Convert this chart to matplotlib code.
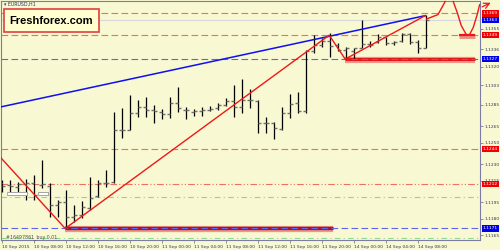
import matplotlib
matplotlib.use("Agg")
import matplotlib.pyplot as plt
from matplotlib.patches import Rectangle
import matplotlib.transforms as mtransforms

# EURUSD H1 bars, 10 Sep 04:00 .. 14 Sep 09:00
opens = [1.1213, 1.1211, 1.1209, 1.1212, 1.1213, 1.1211, 1.1210, 1.1193, 1.1195, 1.1182,
         1.1183, 1.1190, 1.1201, 1.1213, 1.1214, 1.1262, 1.1262, 1.1277, 1.1283, 1.1280,
         1.1278, 1.1276, 1.1287, 1.1280, 1.1278, 1.1279, 1.1280, 1.1282, 1.1285, 1.1288,
         1.1283, 1.1289, 1.1288, 1.1268, 1.1268, 1.1263, 1.1277, 1.1287, 1.1279, 1.1334,
         1.1340, 1.1344, 1.1340, 1.1335, 1.1334, 1.1337, 1.1341, 1.1343, 1.1347, 1.1342,
         1.1344, 1.1350, 1.1343, 1.1337]
highs = [1.1216, 1.1216, 1.1214, 1.1217, 1.1220, 1.1234, 1.1213, 1.1197, 1.1206, 1.1193,
         1.1196, 1.1218, 1.1216, 1.1225, 1.1278, 1.1282, 1.1294, 1.1289, 1.1292, 1.1285,
         1.1281, 1.1292, 1.1301, 1.1283, 1.1281, 1.1283, 1.1284, 1.1287, 1.1291, 1.1303,
         1.1309, 1.1299, 1.1289, 1.1274, 1.1269, 1.1283, 1.1295, 1.1297, 1.1335, 1.1349,
         1.1346, 1.1351, 1.1342, 1.1338, 1.1337, 1.1363, 1.1344, 1.1350, 1.1347, 1.1344,
         1.1351, 1.1351, 1.1345, 1.1368]
lows = [1.1205, 1.1205, 1.1205, 1.1197, 1.1197, 1.1208, 1.1182, 1.1182, 1.1171, 1.1177,
        1.1181, 1.1188, 1.1200, 1.1209, 1.1213, 1.1254, 1.1262, 1.1274, 1.1274, 1.1268,
        1.1272, 1.1273, 1.1278, 1.1272, 1.1275, 1.1275, 1.1279, 1.1280, 1.1284, 1.1274,
        1.1277, 1.1282, 1.1259, 1.1259, 1.1253, 1.1262, 1.1273, 1.1277, 1.1277, 1.1333,
        1.1338, 1.1329, 1.1334, 1.1327, 1.1328, 1.1337, 1.1338, 1.1342, 1.1340, 1.1340,
        1.1343, 1.1341, 1.1333, 1.1337]
closes = [1.1210, 1.1210, 1.1212, 1.1213, 1.1202, 1.1212, 1.1193, 1.1195, 1.1182, 1.1183,
          1.1191, 1.1199, 1.1213, 1.1213, 1.1262, 1.1262, 1.1277, 1.1283, 1.1280, 1.1279,
          1.1276, 1.1287, 1.1282, 1.1280, 1.1279, 1.1280, 1.1281, 1.1285, 1.1288, 1.1283,
          1.1289, 1.1289, 1.1268, 1.1268, 1.1264, 1.1277, 1.1286, 1.1279, 1.1334, 1.1340,
          1.1344, 1.1339, 1.1335, 1.1337, 1.1337, 1.1341, 1.1340, 1.1347, 1.1342, 1.1343,
          1.1350, 1.1343, 1.1337, 1.1363]

time_labels = ["10 Sep 2015", "10 Sep 08:00", "10 Sep 12:00", "10 Sep 16:00", "10 Sep 20:00",
               "11 Sep 00:00", "11 Sep 04:00", "11 Sep 08:00", "11 Sep 12:00", "11 Sep 16:00",
               "11 Sep 20:00", "14 Sep 00:00", "14 Sep 04:00", "14 Sep 08:00"]
price_ticks = [1.1355, 1.1336, 1.1320, 1.1303, 1.1285, 1.1265, 1.1250, 1.1230,
               1.1215, 1.1195, 1.1180, 1.1165]

# horizontal levels
red_dash_levels = [1.1369, 1.1349, 1.1244]
blue_dash_levels = [1.1327, 1.1171]
red_dashdot_level = 1.1212
green_levels = [1.1200, 1.1162]
bid = 1.1363
red_labels = [1.1369, 1.1349, 1.1244, 1.1212]
blue_labels = [1.1363, 1.1327, 1.1171]

# trend lines (bar index, price)
blue_x = [-0.125, 52.9]
blue_y = [1.1283, 1.1367]
zig_x = [-0.125, 7.9, 40.9, 42.9, 52.9]
zig_y = [1.1236, 1.1171, 1.1349, 1.1327, 1.1367]

# drawn forecast curves
up_x = [53.1, 54.5, 55.1, 55.4]
up_y = [1.1364, 1.1368, 1.1376, 1.1380]
v_x = [56.4, 56.9, 57.4, 58.0, 58.4, 58.9, 59.4, 59.7]
v_y = [1.1380, 1.1370, 1.1358, 1.1350, 1.1349, 1.1356, 1.1368, 1.1377]

# trade bars (start, end, price)
trade_bars = [(7.9, 41.4, 1.1171), (42.9, 59.1, 1.1327)]
# order markers (start, end) at one price
markers_x = [(0.6, 3.1), (4.5, 5.8)]
marker_price = 1.1202

bg = "#f8f8d2"
frame = "#7c7ca4"
txt = "#34345c"

fig = plt.figure(figsize=(5, 2.5), dpi=100, facecolor=bg)
ax = fig.add_axes([0.002, 0.04, 0.958, 0.956], facecolor=bg)
ax.set_xlim(-0.125, 59.75)
ax.set_ylim(1.11604, 1.13805)

# levels
for lv in red_dash_levels:
    ax.axhline(lv, color="#f07060", lw=0.8, dashes=(6, 3), zorder=1)
for lv in blue_dash_levels:
    ax.axhline(lv, color="#6464e8", lw=0.8, dashes=(6, 3), zorder=4)
ax.axhline(red_dashdot_level, color="#f07060", lw=0.8, dashes=(6, 2, 1, 2, 1, 2), zorder=1)
for lv in green_levels:
    ax.axhline(lv, color="#90d890", lw=0.8, dashes=(5, 3, 1, 3), zorder=1)
ax.axhline(bid, color="#d8d8d8", lw=0.8, zorder=1)

# trade bars with glow
for x0, x1, p in trade_bars:
    ax.plot([x0, x1], [p - 0.00005, p - 0.00005], color="#e89080", lw=4.5,
            solid_capstyle="butt", zorder=3, alpha=0.9)
x0, x1, p = trade_bars[0]
ax.plot([x0, x1], [p, p], color="#a81038", lw=2.4, solid_capstyle="butt", zorder=3)
x0, x1, p = trade_bars[1]
ax.plot([x0, x1], [p, p], color="#e81818", lw=2.2, solid_capstyle="butt", zorder=3)
ax.plot([57.1, 59.1], [1.1348, 1.1348], color="#e89080", lw=3.5, solid_capstyle="butt", zorder=3)
ax.plot([57.1, 59.1], [1.1349, 1.1349], color="#e81818", lw=1.6, solid_capstyle="butt", zorder=3)

# OHLC bars
idx = list(range(len(opens)))
ax.vlines(idx, lows, highs, color="black", lw=0.9, zorder=5)
ax.hlines(opens, [i - 0.4 for i in idx], idx, color="#707070", lw=1.0, zorder=5)
ax.hlines(closes, idx, [i + 0.4 for i in idx], color="#707070", lw=1.0, zorder=5)

# trendlines
ax.plot(blue_x, blue_y, color="#1010f0", lw=1.1, zorder=6)
ax.plot(zig_x, zig_y, color="#f01818", lw=1.0, zorder=6)
ax.plot(up_x, up_y, color="#f01818", lw=1.0, zorder=6, clip_on=False)
ax.plot(v_x, v_y, color="#f01818", lw=1.0, zorder=6, clip_on=False)
ax.annotate("", xy=(61.4, 1.1380), xytext=(59.7, 1.1374), annotation_clip=False,
            arrowprops=dict(arrowstyle="->", color="#f01818", lw=0.9))

# order markers
for xa, xb in markers_x:
    ax.add_patch(Rectangle((xa + 0.1, marker_price - 0.00008), xb - xa, 0.0003,
                           fc="#b8b8b8", ec="none", zorder=7))
    ax.add_patch(Rectangle((xa, marker_price), xb - xa, 0.0003,
                           fc="white", ec="#909090", lw=0.5, zorder=7))

# axes styling
for s in ax.spines.values():
    s.set_color(frame)
    s.set_linewidth(0.8)
ax.yaxis.tick_right()
ax.set_yticks(price_ticks)
ax.set_yticklabels([f"{v:.4f}" for v in price_ticks])
ax.tick_params(axis="y", length=2, width=0.6, colors=frame, labelcolor=txt,
               labelsize=3.2, pad=1)
ax.set_xticks(range(0, 53, 4))
ax.set_xticklabels(time_labels, ha="left")
ax.tick_params(axis="x", length=2, width=0.6, colors=frame, labelcolor=txt,
               labelsize=3.2, pad=1.5)

# price labels on axis
tr = mtransforms.blended_transform_factory(ax.transAxes, ax.transData)
for lv in red_labels:
    ax.text(1.006, lv, f"{lv:.4f}", transform=tr, fontsize=3.2, color="white",
            va="center", ha="left", zorder=10, clip_on=False,
            bbox=dict(boxstyle="square,pad=0.25", fc="#f00000", ec="none"))
for lv in blue_labels:
    ax.text(1.006, lv, f"{lv:.4f}", transform=tr, fontsize=3.2, color="white",
            va="center", ha="left", zorder=10, clip_on=False,
            bbox=dict(boxstyle="square,pad=0.25", fc="#0000e8", ec="none"))

# texts
fig.text(0.008, 0.982, "\u25be EURUSD,H1", fontsize=3.4, color=txt, va="center")
fig.text(0.012, 0.052, "#16497861_buy 0.01", fontsize=3.4, color="#505050", va="center")
fig.text(0.103, 0.918, "Freshforex.com", fontsize=8, fontweight="bold", color="black",
         family="Liberation Sans", ha="center", va="center",
         bbox=dict(boxstyle="square,pad=0.55", fc="#ffffd0", ec="#e04040", lw=1.2))

fig.savefig("out.png", dpi=100, facecolor=bg)
